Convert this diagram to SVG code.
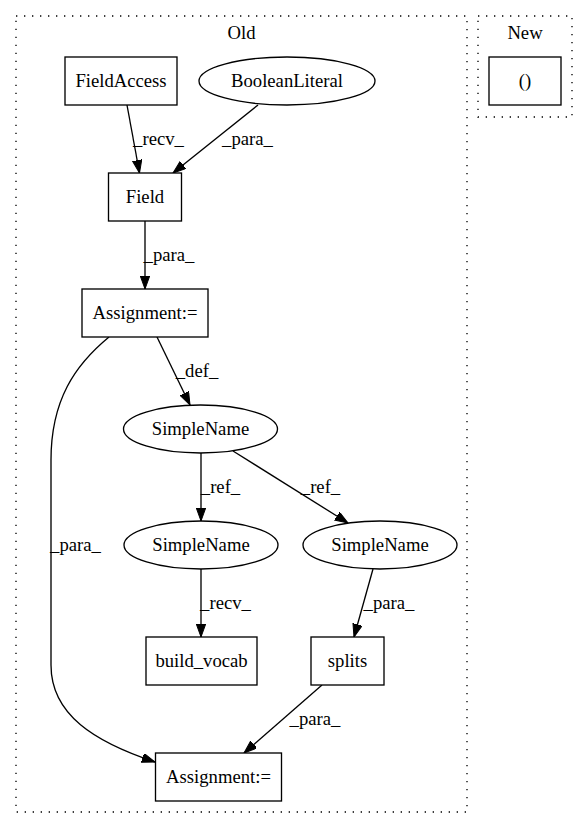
<svg xmlns="http://www.w3.org/2000/svg" width="588" height="828" viewBox="0 0 588 828">
<style>
  text { font-family: "Liberation Serif", "Times New Roman", serif; font-size: 18.67px; fill: #000; text-anchor: middle; }
  .cluster { fill: none; stroke: #000; stroke-width: 1.33; stroke-dasharray: 1.33 6.67; }
  .node { fill: #fff; stroke: #000; stroke-width: 1.33; }
  .edge { fill: none; stroke: #000; stroke-width: 1.33; marker-end: url(#arrow); }
</style>
<defs>
  <marker id="arrow" markerUnits="userSpaceOnUse" markerWidth="14" markerHeight="10" refX="13" refY="4.7" orient="auto">
    <path d="M0,0 L13,4.7 L0,9.4 Z" fill="#000" stroke="#000" stroke-width="1"/>
  </marker>
</defs>
<rect width="588" height="828" fill="#fff"/>
<g id="cluster_old">
  <rect class="cluster" x="16" y="16" width="451" height="796"/>
  <text x="241.5" y="39">Old</text>
</g>
<g id="cluster_new">
  <rect class="cluster" x="478" y="16" width="94" height="101"/>
  <text x="525" y="39">New</text>
</g>
<g id="edges">
  <path class="edge" d="M127,105 L139.5,173"/>
  <text x="158.5" y="144.5">_recv_</text>
  <path class="edge" d="M258,105 L173,173"/>
  <text x="247.5" y="144.5">_para_</text>
  <path class="edge" d="M145,221 L145,289"/>
  <text x="169" y="260.5">_para_</text>
  <path class="edge" d="M157,337 L190,405"/>
  <text x="197" y="376.5">_def_</text>
  <path class="edge" d="M109,337 C75,365 51,400 51,460 L51,665 C51,715 95,742 155,762"/>
  <text x="75.5" y="550.5">_para_</text>
  <path class="edge" d="M201,453 L201,521"/>
  <text x="220.5" y="492.5">_ref_</text>
  <path class="edge" d="M233,451 L348,523"/>
  <text x="320.5" y="492.5">_ref_</text>
  <path class="edge" d="M201,569 L201,637"/>
  <text x="225.5" y="608.5">_recv_</text>
  <path class="edge" d="M373,569 L354,637"/>
  <text x="389" y="608.5">_para_</text>
  <path class="edge" d="M322,685 L244,753"/>
  <text x="315" y="724.5">_para_</text>
</g>
<g id="node_fieldaccess">
  <rect class="node" x="65" y="57" width="112" height="48"/>
  <text x="121" y="86.5">FieldAccess</text>
</g>
<g id="node_booleanliteral">
  <ellipse class="node" cx="287" cy="81" rx="88" ry="24"/>
  <text x="287" y="86.5">BooleanLiteral</text>
</g>
<g id="node_new_paren">
  <rect class="node" x="489" y="57" width="72" height="48"/>
  <text x="525" y="86.5">()</text>
</g>
<g id="node_field">
  <rect class="node" x="108.5" y="173" width="73" height="48"/>
  <text x="145" y="202.5">Field</text>
</g>
<g id="node_assignment1">
  <rect class="node" x="82" y="289" width="126" height="48"/>
  <text x="145" y="318.5">Assignment:=</text>
</g>
<g id="node_simplename">
  <ellipse class="node" cx="200.5" cy="429" rx="77" ry="24"/>
  <text x="200.5" y="434.5">SimpleName</text>
</g>
<g id="node_simplename_left">
  <ellipse class="node" cx="201" cy="545" rx="77" ry="24"/>
  <text x="201" y="550.5">SimpleName</text>
</g>
<g id="node_simplename_right">
  <ellipse class="node" cx="380" cy="545" rx="77" ry="24"/>
  <text x="380" y="550.5">SimpleName</text>
</g>
<g id="node_build_vocab">
  <rect class="node" x="146" y="637" width="111" height="48"/>
  <text x="201.5" y="666.5">build_vocab</text>
</g>
<g id="node_splits">
  <rect class="node" x="311" y="637" width="73" height="48"/>
  <text x="347.5" y="666.5">splits</text>
</g>
<g id="node_assignment2">
  <rect class="node" x="155.5" y="753" width="126" height="48"/>
  <text x="218.5" y="782.5">Assignment:=</text>
</g>
</svg>
